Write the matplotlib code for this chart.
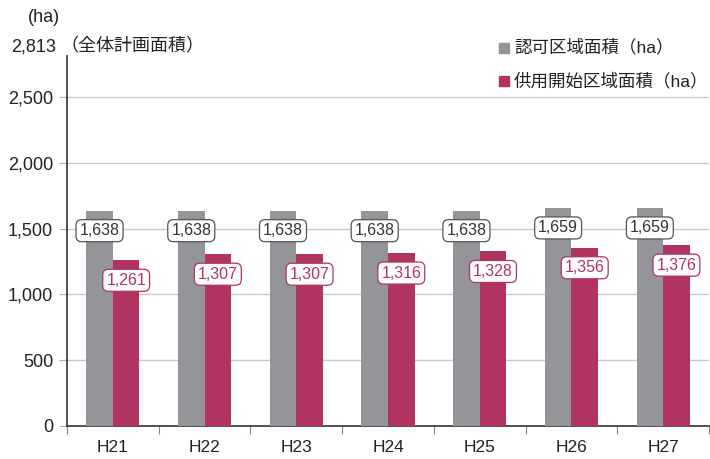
import matplotlib
matplotlib.use("Agg")
import matplotlib.pyplot as plt
import numpy as np

plt.rcParams['font.family'] = ['Liberation Sans', 'Noto Sans CJK JP', 'DejaVu Sans']

categories = ["H21", "H22", "H23", "H24", "H25", "H26", "H27"]
approved = [1638, 1638, 1638, 1638, 1638, 1659, 1659]
in_service = [1261, 1307, 1307, 1316, 1328, 1356, 1376]
yticks = [0, 500, 1000, 1500, 2000, 2500]
total_plan = 2813

gray = "#939598"
pink = "#b03362"

fig = plt.figure(figsize=(7.10, 4.59), dpi=100)
ax = fig.add_axes([67/710, 33/459, 642/710, 370/459])

x = np.arange(len(categories))
w = 0.29
ax.bar(x - w/2, approved, width=w, color=gray, zorder=3)
ax.bar(x + w/2, in_service, width=w, color=pink, zorder=3)

for xi, v in zip(x, approved):
    ax.annotate(f"{v:,}", (xi - w/2, v), xytext=(0, -14.5), textcoords="offset points",
                ha="center", va="center", fontsize=11.5, color="#333333", zorder=5,
                bbox=dict(boxstyle="round,pad=0.22,rounding_size=0.35", fc="white", ec="#555555", lw=0.9))
for xi, v in zip(x, in_service):
    ax.annotate(f"{v:,}", (xi + w/2, v), xytext=(0, -14.5), textcoords="offset points",
                ha="center", va="center", fontsize=11.5, color=pink, zorder=5,
                bbox=dict(boxstyle="round,pad=0.22,rounding_size=0.35", fc="white", ec=pink, lw=0.9))

ax.set_xlim(-0.5, len(categories) - 0.5)
ax.set_ylim(0, total_plan)
ax.set_yticks(yticks)
ax.set_yticklabels([f"{t:,}" for t in yticks], fontsize=13, color="#222222")
ax.yaxis.grid(True, color="#c8c8c8", lw=1, zorder=0)
ax.set_axisbelow(True)

ax.set_xticks(np.arange(len(categories) + 1) - 0.5)
ax.set_xticklabels([])
ax.set_xticks(x, minor=True)
ax.set_xticklabels(categories, minor=True, fontsize=12.5, color="#222222")
ax.tick_params(axis="x", which="minor", length=0, pad=10)
ax.tick_params(axis="x", which="major", length=6, color="#888888", direction="out")
ax.tick_params(axis="y", length=6, color="#aaaaaa", pad=4)

for s in ["top", "right"]:
    ax.spines[s].set_visible(False)
ax.spines["left"].set_color("#333333")
ax.spines["bottom"].set_color("#333333")
ax.spines["left"].set_linewidth(1.2)
ax.spines["bottom"].set_linewidth(1.2)

fig.text(28/710, 1 - 18/459, "(ha)", fontsize=13, ha="left", va="center", color="#222222")
fig.text(56/710, 1 - 47/459, f"{total_plan:,}", fontsize=13, ha="right", va="center", color="#222222")
fig.text(60/710, 1 - 47/459, "（全体計画面積）", fontsize=13, ha="left", va="center", color="#222222")

# legend
fig.patches.append(plt.Rectangle((499/710, 1 - 53/459), 10/710, 10/459, transform=fig.transFigure, color=gray))
fig.text(514/710, 1 - 47/459, "認可区域面積（ha）", fontsize=12.6, ha="left", va="center", color="#222222")
fig.patches.append(plt.Rectangle((499/710, 1 - 86/459), 10/710, 10/459, transform=fig.transFigure, color=pink))
fig.text(514/710, 1 - 81/459, "供用開始区域面積（ha）", fontsize=12.6, ha="left", va="center", color="#222222")

fig.savefig("out.png", dpi=100)
